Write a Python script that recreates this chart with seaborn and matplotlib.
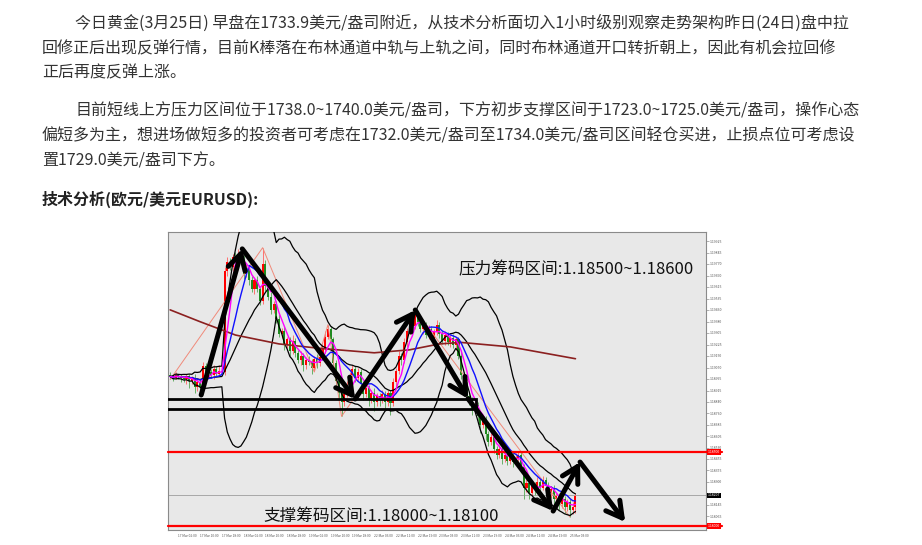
import numpy as np
import pandas as pd
import matplotlib
matplotlib.use("Agg")
import matplotlib.pyplot as plt
from matplotlib.patches import Rectangle
import seaborn as sns

sns.set_style("white")
plt.rcParams["font.family"] = ["Noto Sans CJK SC", "DejaVu Sans"]

# 1小时K线 收盘价 (EURUSD, 16 Mar 23:00 ~ 25 Mar 05:00)
closes = [
    1.1901, 1.1900, 1.1902, 1.1901, 1.1900, 1.1899, 1.1901, 1.1898, 1.1900, 1.1894,
    1.1897, 1.1894, 1.1908, 1.1901, 1.1904, 1.1902, 1.1906, 1.1903, 1.1905, 1.1904,
    1.1972, 1.1978, 1.1975, 1.1982, 1.1980, 1.1984, 1.1979, 1.1970, 1.1974, 1.1966,
    1.1960, 1.1966, 1.1960, 1.1952, 1.1977, 1.1962, 1.1955, 1.1946, 1.1950, 1.1940,
    1.1930, 1.1932, 1.1922, 1.1926, 1.1918, 1.1925, 1.1917, 1.1912, 1.1915, 1.1909,
    1.1912, 1.1911, 1.1907, 1.1913, 1.1910, 1.1914, 1.1920, 1.1928, 1.1933, 1.1926,
    1.1910, 1.1898, 1.1890, 1.1884, 1.1889, 1.1895, 1.1902, 1.1906, 1.1900, 1.1904,
    1.1896, 1.1889, 1.1893, 1.1886, 1.1890, 1.1884, 1.1888, 1.1885, 1.1889, 1.1884,
    1.1890, 1.1883, 1.1897, 1.1905, 1.1915, 1.1912, 1.1924, 1.1932, 1.1938, 1.1935,
    1.1943, 1.1938, 1.1933, 1.1936, 1.1929, 1.1933, 1.1927, 1.1931, 1.1936, 1.1930,
    1.1925, 1.1929, 1.1924, 1.1927, 1.1922, 1.1926, 1.1915, 1.1902, 1.1895, 1.1888,
    1.1885, 1.1879, 1.1882, 1.1874, 1.1868, 1.1872, 1.1862, 1.1857, 1.1860, 1.1852,
    1.1848, 1.1852, 1.1845, 1.1848, 1.1844, 1.1847, 1.1843, 1.1846, 1.1848, 1.1840,
    1.1826, 1.1829, 1.1822, 1.1828, 1.1824, 1.1830, 1.1826, 1.1831, 1.1827, 1.1822,
    1.1825, 1.1818, 1.1820, 1.1815, 1.1818, 1.1813, 1.1816, 1.1811, 1.1813, 1.1820,
]
first_open = 1.1902

# 上影线/下影线 (点数, 0.0001)
up_wick = [
    2, 1, 2, 1, 2, 1, 2, 2, 1, 3,
    2, 2, 3, 2, 4, 2, 3, 2, 4, 2,
    3, 4, 3, 2, 3, 3, 2, 4, 3, 2,
    3, 2, 3, 2, 11, 3, 2, 3, 2, 2,
    3, 2, 3, 2, 2, 4, 2, 2, 3, 2,
    2, 3, 2, 2, 3, 2, 3, 4, 3, 2,
    2, 2, 3, 2, 2, 3, 2, 3, 2, 3,
    2, 2, 3, 2, 2, 3, 2, 2, 3, 2,
    2, 2, 3, 2, 3, 2, 3, 2, 3, 2,
    3, 2, 3, 2, 2, 3, 2, 2, 3, 2,
    2, 3, 2, 2, 3, 2, 2, 3, 2, 2,
    3, 2, 3, 2, 2, 3, 2, 2, 3, 2,
    2, 3, 2, 2, 3, 2, 2, 3, 3, 2,
    2, 3, 2, 3, 2, 3, 2, 3, 2, 3,
    2, 3, 2, 2, 3, 2, 2, 2, 3, 2,
]
dn_wick = [
    2, 2, 1, 2, 3, 2, 3, 5, 2, 4,
    3, 4, 2, 3, 2, 2, 3, 2, 2, 2,
    2, 3, 2, 3, 2, 3, 2, 3, 2, 3,
    2, 3, 2, 3, 2, 3, 2, 3, 2, 3,
    2, 3, 3, 2, 3, 2, 3, 2, 3, 4,
    3, 2, 4, 2, 3, 2, 2, 3, 2, 3,
    2, 4, 5, 10, 3, 2, 3, 2, 3, 2,
    3, 4, 2, 5, 3, 6, 3, 4, 2, 5,
    3, 8, 2, 3, 2, 3, 2, 3, 2, 3,
    2, 3, 2, 3, 2, 3, 2, 3, 2, 3,
    2, 3, 2, 3, 2, 3, 2, 3, 4, 3,
    3, 4, 2, 3, 5, 2, 4, 3, 2, 3,
    3, 2, 3, 2, 3, 2, 3, 2, 2, 3,
    8, 3, 4, 2, 3, 2, 3, 2, 3, 4,
    3, 4, 3, 4, 3, 4, 3, 5, 3, 4,
]

# 长期均线 (棕色)
ma_long_idx = [0, 11, 24, 40, 55, 75, 88, 99, 107, 125, 137, 149]
ma_long_val = [1.1946, 1.1938, 1.1929, 1.1923, 1.1920, 1.1917, 1.1919, 1.1923, 1.1924, 1.1921, 1.1917, 1.1913]

# ZigZag
zz_idx = [0, 34, 53, 58, 63, 90, 147]
zz_val = [1.1899, 1.1988, 1.1904, 1.1936, 1.1874, 1.1946, 1.1806]

# 手绘箭头路径
arrow_idx = [11.4, 26.5, 68.0, 90.1, 109.5, 140.8, 150.7, 167.3]
arrow_val = [1.18885, 1.19872, 1.18858, 1.19459, 1.18860, 1.18101, 1.18432, 1.18027]

# 水平线
pressure_line = 1.18500
support_line = 1.18000
current_price = 1.18207
box_low, box_high, box_end = 1.18790, 1.18858, 112.5

ytick_vals = [1.19925, 1.19845, 1.19770, 1.19690, 1.19615, 1.19535, 1.19460, 1.19380, 1.19305,
              1.19225, 1.19150, 1.19070, 1.18995, 1.18915, 1.18840, 1.18760, 1.18685, 1.18605,
              1.18530, 1.18455, 1.18375, 1.18300, 1.18145, 1.18065]
xtick_labels = ["17 Mar 02:00", "17 Mar 10:00", "17 Mar 18:00", "18 Mar 02:00", "18 Mar 10:00",
                "18 Mar 18:00", "19 Mar 02:00", "19 Mar 10:00", "19 Mar 18:00", "22 Mar 03:00",
                "22 Mar 11:00", "22 Mar 19:00", "23 Mar 03:00", "23 Mar 11:00", "23 Mar 19:00",
                "24 Mar 03:00", "24 Mar 11:00", "24 Mar 19:00", "25 Mar 03:00"]

# 数据整理
df = pd.DataFrame({"idx": np.arange(len(closes)), "close": closes})
df["open"] = [first_open] + closes[:-1]
df["high"] = np.maximum(df["open"], df["close"]) + np.array(up_wick) * 0.0001
df["low"] = np.minimum(df["open"], df["close"]) - np.array(dn_wick) * 0.0001
df["ma5"] = df["close"].rolling(5, min_periods=1).mean()
df["ma10"] = df["close"].rolling(10, min_periods=1).mean()
mid = df["close"].rolling(20, min_periods=1).mean()
sd = df["close"].rolling(20, min_periods=1).std(ddof=0)
df["bb_mid"] = mid
df["bb_up"] = mid + 2 * sd
df["bb_dn"] = mid - 2 * sd

W, H = 922, 545
fig = plt.figure(figsize=(W / 100, H / 100), dpi=100)

# 文章文字
txt = "#333333"
paragraphs = [
    (75, 23, "今日黄金(3月25日) 早盘在1733.9美元/盎司附近，从技术分析面切入1小时级别观察走势架构昨日(24日)盘中拉"),
    (42, 49, "回修正后出现反弹行情，目前K棒落在布林通道中轨与上轨之间，同时布林通道开口转折朝上，因此有机会拉回修"),
    (42, 73, "正后再度反弹上涨。"),
    (75, 111, "目前短线上方压力区间位于1738.0~1740.0美元/盎司，下方初步支撑区间于1723.0~1725.0美元/盎司，操作心态"),
    (42, 136, "偏短多为主，想进场做短多的投资者可考虑在1732.0美元/盎司至1734.0美元/盎司区间轻仓买进，止损点位可考虑设"),
    (42, 161, "置1729.0美元/盎司下方。"),
]
for px, py, s in paragraphs:
    fig.text(px / W, 1 - py / H, s, fontsize=11.5, color=txt, va="center", ha="left")
fig.text(42 / W, 1 - 199 / H, "技术分析(欧元/美元EURUSD):", fontsize=11.5, color="#222222",
         fontweight="bold", va="center", ha="left")

# K线图
ax = fig.add_axes([168 / W, (H - 530) / H, (706 - 168) / W, (530 - 232) / H])
ax.set_facecolor("#e8e8e8")

up = df["close"] >= df["open"]
body_col = np.where(up, "#ff0000", "#1f8a1f")
wick_col = np.where(up, "#ff7070", "#66b066")
ax.vlines(df["idx"], df["low"], df["high"], colors=wick_col, lw=0.7, zorder=2)
ax.bar(df["idx"], np.maximum((df["close"] - df["open"]).abs(), 0.00004),
       bottom=np.minimum(df["open"], df["close"]), width=0.75, color=body_col, lw=0, zorder=3)

for col in ["bb_up", "bb_mid", "bb_dn"]:
    sns.lineplot(data=df, x="idx", y=col, color="black", lw=0.9, ax=ax, zorder=4)
sns.lineplot(data=df, x="idx", y="ma10", color="#1010ff", lw=1.0, ax=ax, zorder=5)
sns.lineplot(data=df, x="idx", y="ma5", color="#ff00ff", lw=1.0, ax=ax, zorder=5)
sns.lineplot(x=ma_long_idx, y=ma_long_val, color="#8b2020", lw=1.2, ax=ax, zorder=4)
sns.lineplot(x=zz_idx, y=zz_val, color="#f08a7a", lw=0.7, ax=ax, zorder=3)

# 水平线
ax.axhline(pressure_line, xmax=1.03, color="red", lw=1.6, clip_on=False, zorder=6)
ax.axhline(support_line, xmax=1.03, color="red", lw=1.6, clip_on=False, zorder=6)
ax.axhline(current_price, color="#a8a8a8", lw=0.7, zorder=1)
ax.add_patch(Rectangle((-2, box_low), box_end + 2, box_high - box_low, fill=False,
                       ec="black", lw=2, zorder=7))

# 箭头
for k in range(len(arrow_idx) - 1):
    ax.annotate("", xy=(arrow_idx[k + 1], arrow_val[k + 1]), xytext=(arrow_idx[k], arrow_val[k]),
                arrowprops=dict(arrowstyle="->,head_length=0.8,head_width=0.45", lw=3.6,
                                color="black", shrinkA=0, shrinkB=0, mutation_scale=14),
                zorder=8)

ax.text(0.539, 0.873, "压力筹码区间:1.18500~1.18600", transform=ax.transAxes, fontsize=12,
        color="#111111", va="center", ha="left", zorder=9)
ax.text(0.1766, 0.047, "支撑筹码区间:1.18000~1.18100", transform=ax.transAxes, fontsize=12,
        color="#111111", va="center", ha="left", zorder=9)

ax.set_xlim(-0.8, 197)
ax.set_ylim(1.17973, 1.19986)
ax.set_xlabel("")
ax.set_ylabel("")

ax.yaxis.tick_right()
ax.set_yticks(ytick_vals)
ax.set_yticklabels([f"{v:.5f}" for v in ytick_vals], fontsize=2.5, color="#555555")
ax.set_xticks([3 + 8 * k for k in range(len(xtick_labels))])
ax.set_xticklabels(xtick_labels, fontsize=2.3, color="#555555", ha="left")
ax.tick_params(axis="both", length=2, width=0.4, color="#777777", pad=1)

ytr = ax.get_yaxis_transform()
for v, fc in [(pressure_line, "red"), (support_line, "red"), (current_price, "black")]:
    ax.text(1.004, v, f"{v:.5f}", transform=ytr, fontsize=2.5, color="white", va="center",
            ha="left", bbox=dict(fc=fc, ec="none", pad=0.6), clip_on=False, zorder=10)

for sp in ax.spines.values():
    sp.set_color("#8a8a8a")
    sp.set_linewidth(0.8)

fig.savefig("out.png", dpi=100)
